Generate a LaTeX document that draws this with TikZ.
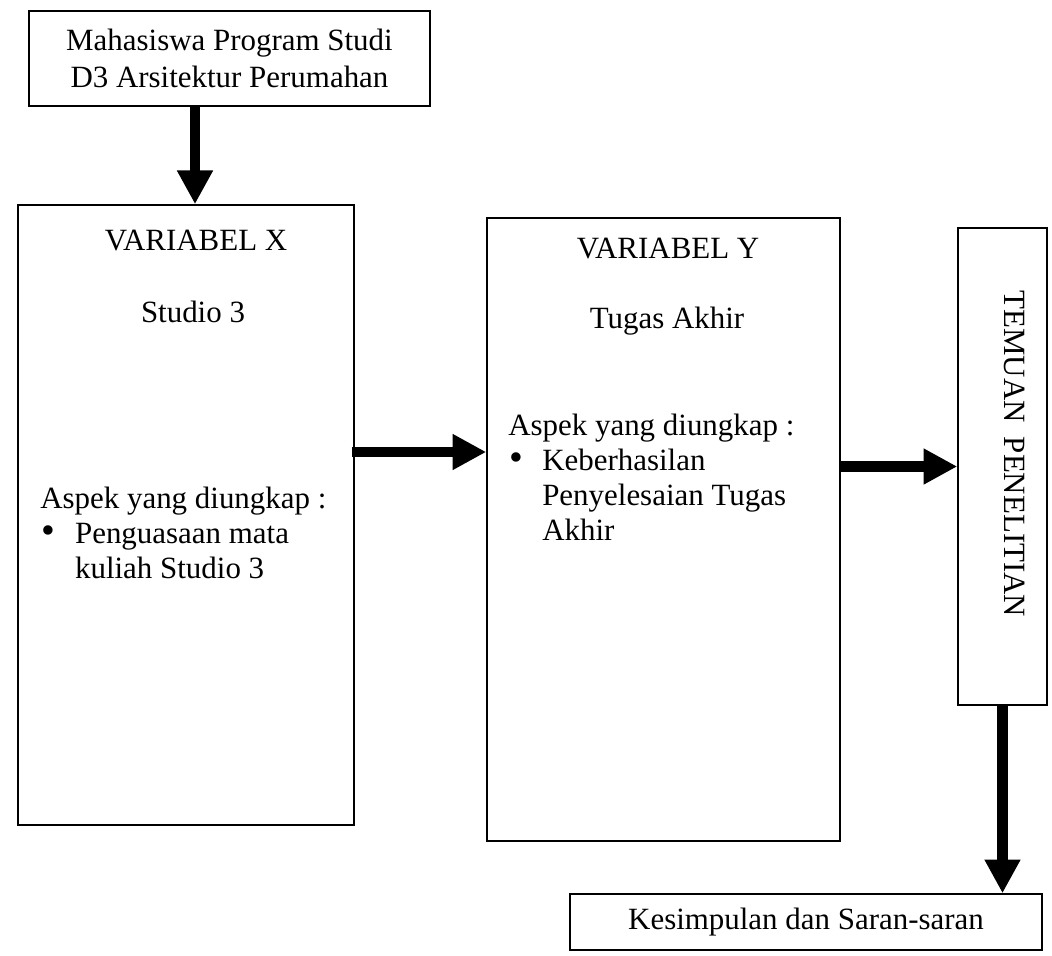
\documentclass[tikz,border=0pt]{standalone}
\usepackage{fontspec}
\setmainfont{Liberation Serif}
\usetikzlibrary{arrows.meta,positioning,calc}

\begin{document}
\begin{tikzpicture}[x=0.025cm,y=-0.025cm,
  panel/.style={draw,line width=1pt,inner sep=0pt,font=\fontsize{22}{25}\selectfont},
  txt/.style={inner sep=0pt,font=\fontsize{22}{25}\selectfont},
  fatarrow/.style={line width=7.5pt,-{Triangle[length=24pt,width=24pt]}}]
\useasboundingbox (0,0) rectangle (1052,955);
% boxes
\node[panel,minimum width=10.03cm,minimum height=2.375cm,align=center] (mhs) at (229.5,58.5) {Mahasiswa Program Studi\\[1.5pt] D3 Arsitektur Perumahan};
\node[panel,minimum width=8.4cm,minimum height=15.5cm] (varx) at (186,515) {};
\node[panel,minimum width=8.825cm,minimum height=15.575cm] (vary) at (663.5,529.5) {};
\node[panel,minimum width=2.225cm,minimum height=11.925cm] (temuan) at (1002.5,466.5) {};
\node[panel,minimum width=11.8cm,minimum height=1.4cm] (kesim) at (806,922) {Kesimpulan dan Saran-saran};
% texts inside
\node[txt,anchor=base] (xtitle) at (196,250) {VARIABEL X};
\node[txt,anchor=base] (xname) at (193,322) {Studio 3};
\node[txt,anchor=base west] (xaspek) at (40,508) {\begin{tabular}[t]{@{}p{0.87cm}@{}l@{}}
\multicolumn{2}{@{}l@{}}{Aspek yang diungkap :}\\
\hspace*{1pt}{\fontsize{28}{25}\selectfont\textbullet} & Penguasaan mata\\
 & kuliah Studio 3
\end{tabular}};
\node[txt,anchor=base] (ytitle) at (668,258) {VARIABEL Y};
\node[txt,anchor=base] (yname) at (667,328) {Tugas Akhir};
\node[txt,anchor=base west] (yaspek) at (508,435) {\begin{tabular}[t]{@{}p{0.85cm}@{}l@{}}
\multicolumn{2}{@{}l@{}}{Aspek yang diungkap :}\\
\hspace*{1pt}{\fontsize{28}{25}\selectfont\textbullet} & Keberhasilan\\
 & Penyelesaian Tugas\\
 & Akhir
\end{tabular}};
\node[txt,rotate=-90] (temuantxt) at (1015,454) {TEMUAN\hspace{0.45em}PENELITIAN};
% arrows
\coordinate (mhsout) at ($(varx.north)+(9,0)$);
\draw[fatarrow] (mhsout |- mhs.south) -- (mhsout);
\coordinate (xout) at ($(varx.east)+(-3,-63)$);
\draw[fatarrow] (xout) -- (xout -| vary.west);
\draw[fatarrow] (temuan.west -| vary.east) -- (temuan.west);
\draw[fatarrow] (temuan.south) -- (temuan.south |- kesim.north);
\end{tikzpicture}
\end{document}
